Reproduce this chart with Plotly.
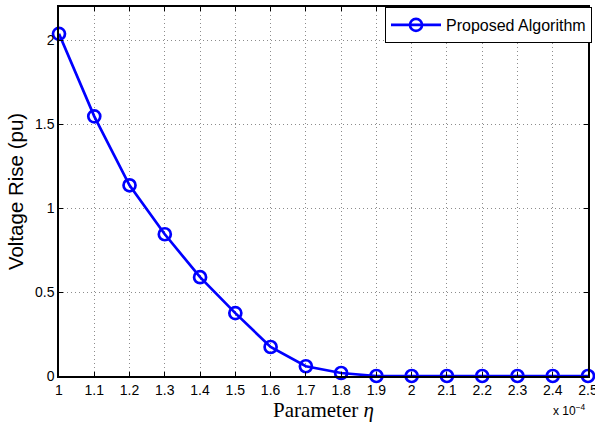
import plotly.graph_objects as go

eta = [1.0, 1.1, 1.2, 1.3, 1.4, 1.5, 1.6, 1.7, 1.8, 1.9, 2.0, 2.1, 2.2, 2.3, 2.4, 2.5]
voltage_rise = [2.04, 1.548, 1.137, 0.845, 0.589, 0.375, 0.173, 0.058, 0.018, 0.0, 0.0, 0.0, 0.0, 0.0, 0.0, 0.0]
x_ticks = [1.0, 1.1, 1.2, 1.3, 1.4, 1.5, 1.6, 1.7, 1.8, 1.9, 2.0, 2.1, 2.2, 2.3, 2.4, 2.5]
x_ticktext = ["1", "1.1", "1.2", "1.3", "1.4", "1.5", "1.6", "1.7", "1.8", "1.9", "2", "2.1", "2.2", "2.3", "2.4", "2.5"]
y_ticks = [0, 0.5, 1, 1.5, 2]
y_ticktext = ["0", "0.5", "1", "1.5", "2"]

SANS = "Liberation Sans, Arial, sans-serif"
SERIF = "Liberation Serif, Times New Roman, serif"

fig = go.Figure()
fig.add_trace(go.Scatter(
    x=eta, y=voltage_rise, mode="lines+markers", name="Proposed Algorithm",
    line=dict(color="#0000ff", width=2.7),
    marker=dict(symbol="circle-open", size=12, color="#0000ff", line=dict(width=2.7, color="#0000ff")),
    cliponaxis=False,
))

axis_common = dict(
    showline=True, linecolor="black", linewidth=1.5, mirror="ticks",
    ticks="inside", ticklen=4, tickcolor="black",
    showgrid=True, gridcolor="#8c8c8c", griddash="1px,3px", gridwidth=1,
    zeroline=False, automargin=False, ticklabeloverflow="allow",
    tickfont=dict(family=SANS, size=14, color="black"),
)

fig.update_layout(
    width=595, height=424,
    margin=dict(l=59, r=7, t=7, b=48, autoexpand=False),
    paper_bgcolor="white", plot_bgcolor="white",
    showlegend=True,
    legend=dict(
        x=1.0 + 4 / 529, y=1.0, xanchor="right", yanchor="top",
        bgcolor="white", bordercolor="black", borderwidth=1,
        font=dict(family=SANS, size=16, color="black"),
        tracegroupgap=0, itemwidth=50,
    ),
    xaxis=dict(
        range=[1.0, 2.5], tickvals=x_ticks, ticktext=x_ticktext,
        title=dict(text="Parameter <i>η</i>", font=dict(family=SERIF, size=21, color="black"), standoff=0),
        **axis_common,
    ),
    yaxis=dict(
        range=[0, 2.2], tickvals=y_ticks, ticktext=y_ticktext,
        title=dict(text="Voltage Rise (pu)", font=dict(family=SANS, size=20.5, color="black"), standoff=6),
        **axis_common,
    ),
)

fig.add_annotation(
    x=1.0, y=0, xref="paper", yref="paper", xanchor="right", yanchor="top",
    yshift=-24, text="x 10<sup>−4</sup>", showarrow=False,
    font=dict(family=SANS, size=12, color="black"),
)

fig.write_html(
    "out.html",
    config={"displayModeBar": False},
    post_script="document.body.style.margin='0';document.body.style.overflow='hidden';",
)
